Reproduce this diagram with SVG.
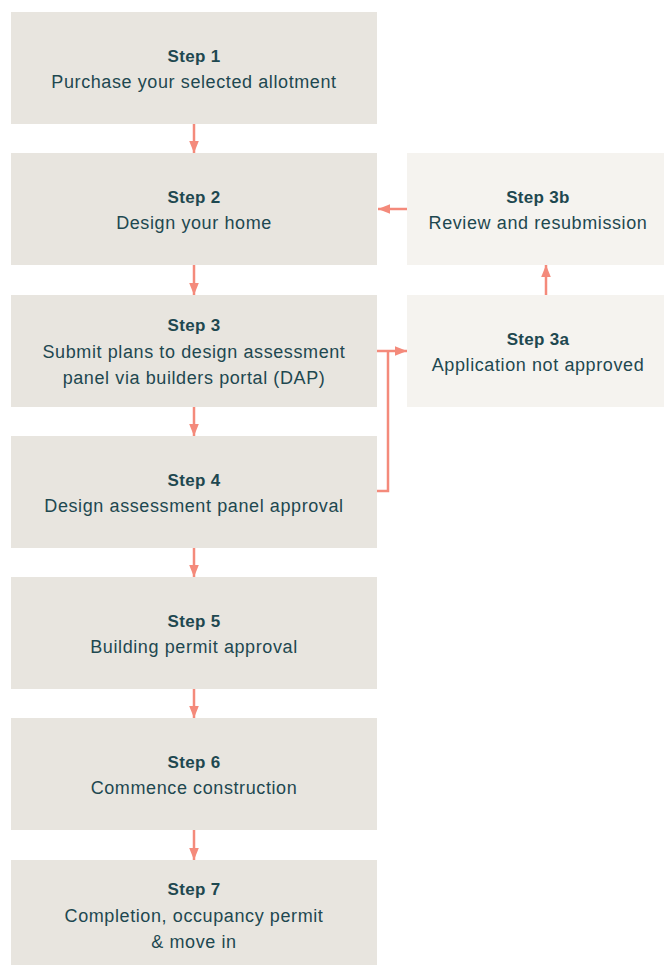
<svg xmlns="http://www.w3.org/2000/svg" width="664" height="965" viewBox="0 0 664 965">
<defs>
<style>
.box{fill:#e8e5df}
.lbox{fill:#f5f3ef}
.t{font-family:"Liberation Sans",Arial,sans-serif;font-size:18px;letter-spacing:0.6px;fill:#1e4850;text-anchor:middle}
.b{font-weight:bold;font-size:17px;letter-spacing:0.3px}
.c{fill:none;stroke:#f48a7b;stroke-width:2.5}
</style>
<marker id="ah" markerUnits="userSpaceOnUse" markerWidth="12" markerHeight="15" refX="15" refY="6" orient="auto" viewBox="0 0 15 12">
<path d="M0,0 L15,6 L0,12 Z" fill="#f48a7b"/>
</marker>
</defs>
<rect width="664" height="965" fill="#ffffff"/>
<g id="step1"><rect class="box" x="11" y="12" width="366" height="112"/><text class="t b" x="194" y="62">Step 1</text><text class="t" x="194" y="88">Purchase your selected allotment</text></g>
<g id="step2"><rect class="box" x="11" y="153" width="366" height="112"/><text class="t b" x="194" y="203">Step 2</text><text class="t" x="194" y="229">Design your home</text></g>
<g id="step3"><rect class="box" x="11" y="295" width="366" height="112"/><text class="t b" x="194" y="331">Step 3</text><text class="t" x="194" y="358">Submit plans to design assessment</text><text class="t" x="194" y="384">panel via builders portal (DAP)</text></g>
<g id="step4"><rect class="box" x="11" y="436" width="366" height="112"/><text class="t b" x="194" y="486">Step 4</text><text class="t" x="194" y="512">Design assessment panel approval</text></g>
<g id="step5"><rect class="box" x="11" y="577" width="366" height="112"/><text class="t b" x="194" y="627">Step 5</text><text class="t" x="194" y="653">Building permit approval</text></g>
<g id="step6"><rect class="box" x="11" y="718" width="366" height="112"/><text class="t b" x="194" y="768">Step 6</text><text class="t" x="194" y="794">Commence construction</text></g>
<g id="step7"><rect class="box" x="11" y="860" width="366" height="105"/><text class="t b" x="194" y="895">Step 7</text><text class="t" x="194" y="922">Completion, occupancy permit</text><text class="t" x="194" y="948">&amp; move in</text></g>
<g id="step3b"><rect class="lbox" x="407" y="153" width="257" height="112"/><text class="t b" x="538" y="203">Step 3b</text><text class="t" x="538" y="229">Review and resubmission</text></g>
<g id="step3a"><rect class="lbox" x="407" y="295" width="257" height="112"/><text class="t b" x="538" y="345">Step 3a</text><text class="t" x="538" y="371">Application not approved</text></g>
<g id="connectors">
<path class="c" d="M194,124 V153" marker-end="url(#ah)"/>
<path class="c" d="M194,265 V295" marker-end="url(#ah)"/>
<path class="c" d="M194,407 V436" marker-end="url(#ah)"/>
<path class="c" d="M194,548 V577" marker-end="url(#ah)"/>
<path class="c" d="M194,689 V718" marker-end="url(#ah)"/>
<path class="c" d="M194,830 V860" marker-end="url(#ah)"/>
<path class="c" d="M407,209 H378" marker-end="url(#ah)"/>
<path class="c" d="M546,295 V265" marker-end="url(#ah)"/>
<path class="c" d="M377,491 H388 V351"/>
<path class="c" d="M377,351 H407" marker-end="url(#ah)"/>
</g>
</svg>
